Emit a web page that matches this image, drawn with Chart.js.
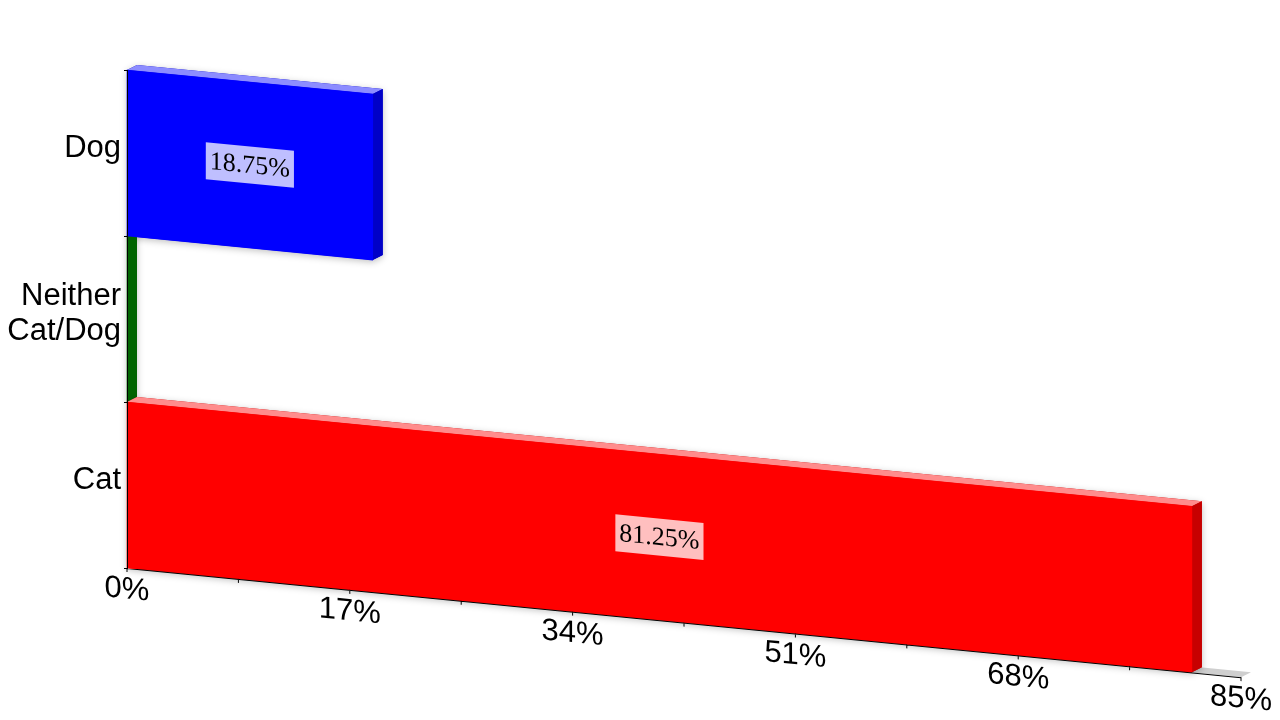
<!DOCTYPE html>
<html>
<head>
<meta charset="utf-8">
<style>
  html, body { margin: 0; padding: 0; background: #fff; }
</style>
<script src="https://cdn.jsdelivr.net/npm/chart.js@4/dist/chart.umd.min.js"></script>
</head>
<body>
<canvas id="chart" width="1280" height="720"></canvas>
<script>
// ====== Data ======
const CATEGORIES = ["Dog", ["Neither", "Cat/Dog"], "Cat"];
const VALUES = [18.75, 0, 81.25];
const BAR_COLORS = ["#0000ff", "#008000", "#ff0000"];
const X_TICKS = [0, 17, 34, 51, 68, 85];

// ====== Look ======
const SHEAR = 0.098;          // floor drops to the right (fake perspective)
const DEPTH_X = 10, DEPTH_Y = -6;
const SANS = '"Liberation Sans", Arial, sans-serif';
const SERIF = '"Liberation Serif", "Times New Roman", serif';

// ====== Helpers ======
function rgb(hex) {
  const n = parseInt(hex.slice(1), 16);
  return [(n >> 16) & 255, (n >> 8) & 255, n & 255];
}
function shade(hex, f) {
  const [r, g, b] = rgb(hex);
  return `rgb(${Math.round(r * f)},${Math.round(g * f)},${Math.round(b * f)})`;
}
function tint(hex, f) {
  const [r, g, b] = rgb(hex);
  const m = v => Math.round(v + (255 - v) * f);
  return `rgb(${m(r)},${m(g)},${m(b)})`;
}
function poly(ctx, pts, fill) {
  ctx.beginPath();
  ctx.moveTo(pts[0][0], pts[0][1]);
  pts.slice(1).forEach(p => ctx.lineTo(p[0], p[1]));
  ctx.closePath();
  ctx.fillStyle = fill;
  ctx.fill();
}
function applyShear(ctx, area) {
  ctx.transform(1, SHEAR, 0, 1, 0, -SHEAR * area.left);
}
function barBox(bar) {
  const p = bar.getProps(['x', 'y', 'base', 'height'], true);
  return { x: p.x, y: p.y, base: p.base, top: p.y - p.height / 2, bottom: p.y + p.height / 2 };
}

// ====== 3D-ish plugin ======
const fake3d = {
  id: 'fake3d',
  beforeDatasetsDraw(chart) {
    const { ctx, chartArea: a } = chart;
    ctx.save();
    applyShear(ctx, a);

    // back wall + floor
    poly(ctx, [[a.left, a.top], [a.left + DEPTH_X, a.top + DEPTH_Y],
               [a.left + DEPTH_X, a.bottom + DEPTH_Y], [a.left, a.bottom]], '#d6d6d6');
    poly(ctx, [[a.left, a.bottom], [a.right, a.bottom],
               [a.right + DEPTH_X, a.bottom + DEPTH_Y], [a.left + DEPTH_X, a.bottom + DEPTH_Y]], '#cfcfcf');

    const meta = chart.getDatasetMeta(0);
    meta.data.forEach((bar, i) => {
      const b = barBox(bar);
      const c = BAR_COLORS[i];
      // soft shadow under the whole block
      ctx.save();
      ctx.shadowColor = 'rgba(0,0,0,0.25)';
      ctx.shadowBlur = 7;
      ctx.shadowOffsetY = 2;
      poly(ctx, [[b.base, b.top], [b.base + DEPTH_X, b.top + DEPTH_Y], [b.x + DEPTH_X, b.top + DEPTH_Y],
                 [b.x + DEPTH_X, b.bottom + DEPTH_Y], [b.x, b.bottom], [b.base, b.bottom]], shade(c, 0.78));
      ctx.restore();
      // top face
      poly(ctx, [[b.base, b.top], [b.x, b.top], [b.x + DEPTH_X, b.top + DEPTH_Y],
                 [b.base + DEPTH_X, b.top + DEPTH_Y]], tint(c, 0.55));
      // side face
      poly(ctx, [[b.x, b.top], [b.x + DEPTH_X, b.top + DEPTH_Y],
                 [b.x + DEPTH_X, b.bottom + DEPTH_Y], [b.x, b.bottom]], shade(c, 0.78));
    });
  },
  afterDatasetsDraw(chart) {
    const { ctx } = chart;
    const meta = chart.getDatasetMeta(0);
    ctx.font = '26px ' + SERIF;
    ctx.textAlign = 'center';
    ctx.textBaseline = 'middle';
    meta.data.forEach((bar, i) => {
      if (!VALUES[i]) return;
      const b = barBox(bar);
      const text = VALUES[i].toFixed(2) + '%';
      const w = ctx.measureText(text).width + 8, h = 37;
      const cx = (b.base + b.x) / 2;
      ctx.fillStyle = 'rgba(255,255,255,0.75)';
      ctx.fillRect(cx - w / 2, b.y - h / 2, w, h);
      ctx.fillStyle = '#000';
      ctx.fillText(text, cx, b.y + 1);
    });
    ctx.restore(); // ends the shear from beforeDatasetsDraw
  },
  afterDraw(chart) {
    const { ctx, chartArea: a } = chart;
    const xs = chart.scales.x;
    const meta = chart.getDatasetMeta(0);
    ctx.save();
    ctx.strokeStyle = '#000';
    ctx.lineWidth = 1;

    // y axis line and category boundary ticks
    ctx.beginPath();
    ctx.moveTo(a.left + 0.5, a.top);
    ctx.lineTo(a.left + 0.5, a.bottom);
    meta.data.forEach(bar => {
      const b = barBox(bar);
      [b.top, b.bottom].forEach(yy => {
        ctx.moveTo(a.left - 3, Math.round(yy) + 0.5);
        ctx.lineTo(a.left + 1, Math.round(yy) + 0.5);
      });
    });
    ctx.stroke();

    // x axis along the sloped floor
    applyShear(ctx, a);
    ctx.beginPath();
    ctx.moveTo(a.left, a.bottom + 0.5);
    ctx.lineTo(a.right, a.bottom + 0.5);
    const marks = [];
    X_TICKS.forEach((v, i) => {
      marks.push(v);
      if (i < X_TICKS.length - 1) marks.push((v + X_TICKS[i + 1]) / 2);
    });
    marks.forEach(v => {
      const px = xs.getPixelForValue(v);
      ctx.moveTo(px, a.bottom);
      ctx.lineTo(px, a.bottom + 4);
    });
    ctx.stroke();

    ctx.fillStyle = '#000';
    ctx.font = '31px ' + SANS;
    ctx.textAlign = 'center';
    ctx.textBaseline = 'middle';
    X_TICKS.forEach(v => {
      ctx.fillText(v + '%', xs.getPixelForValue(v), a.bottom + 22);
    });
    ctx.restore();
  }
};

// ====== Chart ======
new Chart(document.getElementById('chart').getContext('2d'), {
  type: 'bar',
  data: {
    labels: CATEGORIES,
    datasets: [{
      data: VALUES,
      backgroundColor: BAR_COLORS,
      borderWidth: 0,
      barPercentage: 1,
      categoryPercentage: 1,
      clip: false
    }]
  },
  options: {
    indexAxis: 'y',
    responsive: false,
    animation: false,
    devicePixelRatio: 1,
    layout: { padding: { top: 70, right: 39, bottom: 152, left: 0 } },
    plugins: {
      legend: { display: false },
      title: { display: false },
      tooltip: { enabled: false }
    },
    scales: {
      x: { display: false, min: 0, max: 85 },
      y: {
        grid: { display: false, drawTicks: false },
        border: { display: false },
        ticks: {
          color: '#000',
          padding: 6,
          labelOffset: -5,
          font: { family: SANS, size: 31, lineHeight: 1.13 }
        },
        afterFit(scale) { scale.width = 127; }
      }
    }
  },
  plugins: [fake3d]
});
</script>
</body>
</html>
